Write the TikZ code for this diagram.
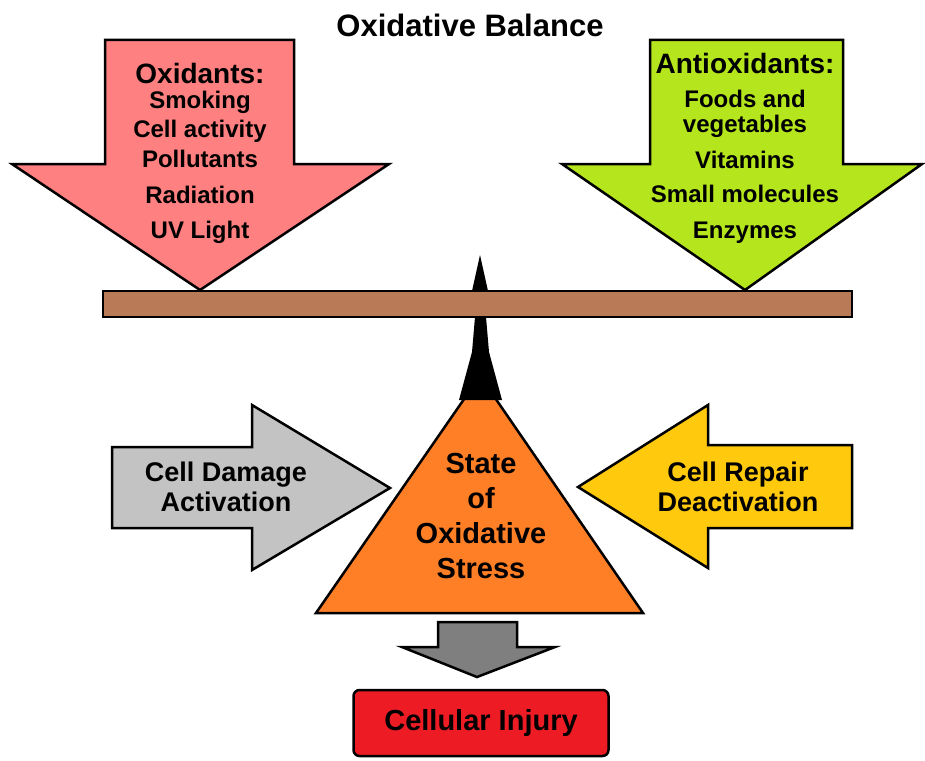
\documentclass[tikz,border=0pt]{standalone}
\usepackage{fontspec}
\setmainfont{Liberation Sans}
\usepackage{tikz}
\usetikzlibrary{arrows.meta, positioning, calc}
\definecolor{oxired}{HTML}{FF8080}
\definecolor{antigreen}{HTML}{B5E61D}
\definecolor{beambrown}{HTML}{B97A57}
\definecolor{damagegray}{HTML}{C3C3C3}
\definecolor{repairyellow}{HTML}{FFC90E}
\definecolor{stressorange}{HTML}{FF7F27}
\definecolor{downgray}{HTML}{7F7F7F}
\definecolor{injuryred}{HTML}{ED1C24}

\begin{document}
\begin{tikzpicture}[
    x=1pt, y=-1pt,
    bigarrow/.style={draw=black, line width=2.5pt, line join=miter, fill=#1},
    listtext/.style={align=center, inner sep=0pt, anchor=north, font=\fontsize{24}{25}\selectfont\bfseries},
    sidetext/.style={align=center, inner sep=0pt, font=\fontsize{27}{30}\selectfont\bfseries},
]
    \useasboundingbox (0,0) rectangle (925,760);

    \node[font=\fontsize{31}{32}\selectfont\bfseries] (title) at (470,25) {Oxidative Balance};

    % top arrows and beam
    \draw[bigarrow=oxired] (105,40) -- (294,40) -- (294,164) -- (389,164) -- (200,290) -- (12,164) -- (105,164) -- cycle;
    \draw[bigarrow=antigreen] (650,40) -- (843,40) -- (843,164) -- (922,164) -- (745,290) -- (562,164) -- (650,164) -- cycle;
    \draw[draw=black, line width=2.5pt, fill=beambrown] (103,291) rectangle (852,317);

    \node[listtext] (oxidants) at (200,63) {\fontsize{28}{25}\selectfont Oxidants:\\
        Smoking\\[4pt]
        Cell activity\\[5pt]
        Pollutants\\[11pt]
        Radiation\\[10pt]
        UV Light};
    \node[listtext] (antioxidants) at (745,53) {\fontsize{28}{25}\selectfont Antioxidants:\\[9pt]
        Foods and\\
        vegetables\\[11pt]
        Vitamins\\[9pt]
        Small molecules\\[11pt]
        Enzymes};

    % stress triangle and fulcrum
    \draw[bigarrow=stressorange] (480,376) -- (643,613) -- (316,613) -- cycle;
    \fill[black] (480,255) -- (488,291) -- (472,291) -- cycle;
    \fill[black] (475,317) -- (486,317) -- (489,352) -- (502,400) -- (459,400) -- (472,352) -- cycle;
    \node[align=center, inner sep=0pt, font=\fontsize{29}{35}\selectfont\bfseries] (stress) at (481,516) {State\\of\\Oxidative\\Stress};

    % side arrows
    \draw[bigarrow=damagegray] (112,447) -- (252,447) -- (252,405) -- (390,488) -- (252,570) -- (252,528) -- (112,528) -- cycle;
    \node[sidetext] (damage) at (226,487) {Cell Damage\\Activation};
    \draw[bigarrow=repairyellow] (852,445) -- (708,445) -- (708,405) -- (578,487) -- (708,568) -- (708,528) -- (852,528) -- cycle;
    \node[sidetext] (repair) at (738,487) {Cell Repair\\Deactivation};

    % outcome
    \draw[bigarrow=downgray] (438,622) -- (517,622) -- (517,647) -- (555,647) -- (477,677) -- (402,647) -- (438,647) -- cycle;
    \node[draw=black, line width=2.5pt, fill=injuryred, rounded corners=6pt, minimum width=255pt, minimum height=66pt,
          font=\fontsize{29}{30}\selectfont\bfseries] (injury) at (481,723) {Cellular Injury};
\end{tikzpicture}
\end{document}
